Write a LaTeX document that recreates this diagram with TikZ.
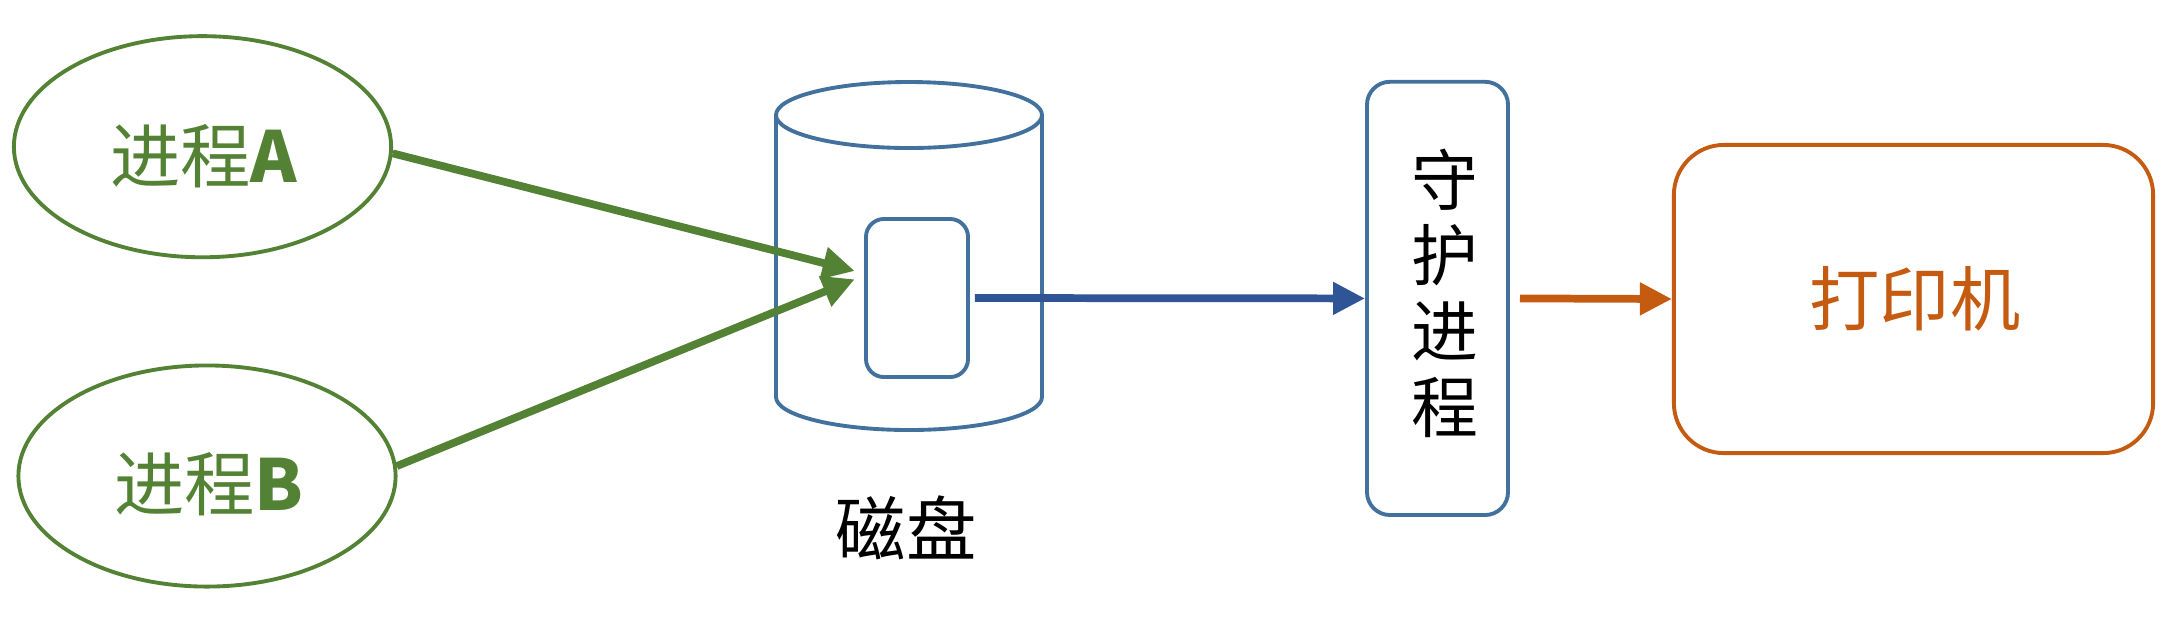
\documentclass[tikz,border=0pt]{standalone}
\usepackage{fontspec}
\setmainfont{Noto Sans CJK SC}
\usetikzlibrary{arrows.meta,shapes.geometric}
\definecolor{pgreen}{HTML}{548235}
\definecolor{pblue}{HTML}{41719C}
\definecolor{darrow}{HTML}{2F5597}
\definecolor{porange}{HTML}{C55A11}
\tikzset{
  procell/.style={ellipse, draw=pgreen, line width=1.1pt, inner sep=0pt,
    minimum width=3.77cm, minimum height=2.21cm},
  proctext/.style={text=pgreen, font=\fontsize{20}{24}\selectfont, inner sep=0pt},
  bluebox/.style={draw=pblue, line width=1.1pt, inner sep=0pt},
  conn/.style={line width=2.2pt, -{Triangle[length=0.32cm, width=0.31cm]}},
  labeltext/.style={font=\fontsize{20}{24}\selectfont, inner sep=0pt}
}
\begin{document}
\begin{tikzpicture}[x=0.01cm, y=-0.01cm]
\useasboundingbox (0,0) rectangle (2166,620);
% processes
\node[procell] (A) at (202.5,146.7) {};
\node[proctext] (Atext) at (204,156) {进程\textbf{A}};
\node[procell] (B) at (207,476) {};
\node[proctext] (Btext) at (209,484) {进程\textbf{B}};
% disk (cylinder)
\coordinate (disk) at (909,256);
\draw[pblue, line width=1.1pt]
  (776,115) -- (776,397) arc[start angle=180, end angle=0, x radius=133, y radius=33]
  -- (1042,115);
\draw[pblue, line width=1.1pt] (909,115) ellipse[x radius=133, y radius=33];
\node[bluebox, rounded corners=0.18cm, minimum width=1.02cm, minimum height=1.58cm] (buf) at (917,298) {};
\node[labeltext] (disklabel) at (906,528) {磁盘};
% daemon
\node[bluebox, rounded corners=0.23cm, minimum width=1.41cm, minimum height=4.33cm] (daemon) at (1437.5,298.4) {};
\node[labeltext, align=center, font=\fontsize{19}{21.5}\selectfont] (daemontext) at (1445,293) {守\\护\\进\\程};
% printer
\node[draw=porange, line width=1.1pt, rounded corners=0.5cm, inner sep=0pt,
  minimum width=4.79cm, minimum height=3.08cm] (printer) at (1913.5,299) {};
\node[labeltext, text=porange] (printertext) at (1915,299) {打印机};
% connectors
\coordinate (tA) at ([shift={(-9.3,-27)}]buf.west);
\coordinate (tB) at ([shift={(-9.3,-18.7)}]buf.west);
\draw[conn, pgreen] (A.-2.5) -- (tA);
\draw[conn, pgreen] (B.3.4) -- (tB);
\draw[conn, darrow] ([xshift=0.05cm]buf.east) -- (daemon.west);
\draw[conn, porange] ([xshift=0.1cm]daemon.east) -- (printer.west);
\end{tikzpicture}
\end{document}
